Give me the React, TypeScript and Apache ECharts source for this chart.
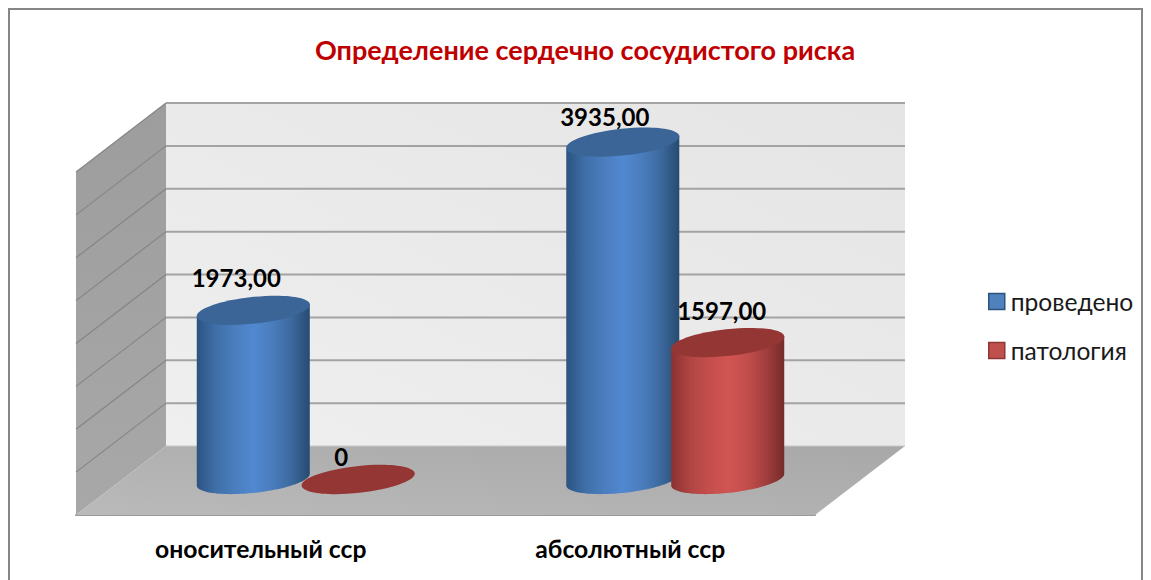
import React, { useEffect, useRef } from "react";
import * as echarts from "echarts";

const categories = ["оносительный сср", "абсолютный сср"];
const seriesNames = ["проведено", "патология"];
const performedValues = [1973, 3935];
const pathologyValues = [0, 1597];
const tickValues = [0, 500, 1000, 1500, 2000, 2500, 3000, 3500, 4000];
const titleText = "Определение сердечно сосудистого риска";

const FONT = "Lato, 'Noto Sans', sans-serif";
const DEPTH_X = 90;
const DEPTH_Y = 69;
const TILT = (6.2 * Math.PI) / 180;

const blueBody = ["#2b5380", "#3f6fa8", "#4a7dbd", "#5188d0", "#4a7dbd", "#3c6a9f", "#274a70"];
const redBody = ["#8a3231", "#b04543", "#c44e4c", "#d05553", "#c44e4c", "#a23f3e", "#752b2a"];

const labelNudges = [
  [[-17, -33], [-17, -23]],
  [[-18, -26], [-6, -32]],
];

function formatValue(v: number) {
  return v === 0 ? "0" : v.toFixed(2).replace(".", ",");
}

function ellipsePoint(cx: number, cy: number, a: number, b: number, t: number) {
  const x = a * Math.cos(t);
  const y = b * Math.sin(t);
  return [
    cx + x * Math.cos(TILT) + y * Math.sin(TILT),
    cy - x * Math.sin(TILT) + y * Math.cos(TILT),
  ];
}

function cylinderItem(seriesIndex: number, topColor: string, stops: string[]) {
  return (params: any, api: any) => {
    const cat = api.value(0);
    const value = api.value(1);
    const band = api.size([1, 0])[0];
    const dx = DEPTH_X / 2 + (seriesIndex === 0 ? -0.142 : 0.142) * band;
    const dy = -DEPTH_Y / 2 - 1;
    const top = api.coord([cat, value]);
    const base = api.coord([cat, 0]);
    const cx = top[0] + dx;
    const topY = top[1] + dy;
    const baseY = base[1] + dy;
    const a = band * 0.154;
    const b = a * 0.235;
    // horizontal tangents of the tilted ellipse
    const t0 = Math.atan2(-b * Math.sin(TILT), a * Math.cos(TILT));
    const children: any[] = [];
    if (value > 0) {
      const points: number[][] = [];
      points.push(ellipsePoint(cx, topY, a, b, t0 + Math.PI));
      points.push(ellipsePoint(cx, topY, a, b, t0));
      for (let i = 0; i <= 48; i++) {
        points.push(ellipsePoint(cx, baseY, a, b, t0 + (Math.PI * i) / 48));
      }
      children.push({
        type: "polygon",
        shape: { points },
        style: {
          fill: {
            type: "linear",
            x: 0,
            y: 0,
            x2: 1,
            y2: 0,
            colorStops: stops.map((color, i) => ({ offset: i / (stops.length - 1), color })),
          },
        },
      });
    }
    children.push({
      type: "ellipse",
      shape: { cx: 0, cy: 0, rx: a, ry: b },
      x: cx,
      y: topY,
      rotation: TILT,
      style: { fill: topColor },
    });
    const nudge = labelNudges[cat][seriesIndex];
    children.push({
      type: "text",
      z2: 50,
      style: {
        x: cx + nudge[0],
        y: topY + nudge[1],
        text: formatValue(value),
        fill: "#000",
        font: `bold 24px ${FONT}`,
        align: "center",
        verticalAlign: "middle",
      },
    });
    return { type: "group", children };
  };
}

function wallItem(params: any, api: any) {
  const sys = params.coordSys;
  const y = api.coord([0, api.value(1)])[1];
  const xL = sys.x;
  const xR = sys.x + sys.width;
  const yB = sys.y + sys.height;
  const yT = sys.y;
  const children: any[] = [];
  if (params.dataIndex === 0) {
    children.push(
      {
        type: "polygon",
        shape: {
          points: [
            [xL + DEPTH_X, yT - DEPTH_Y],
            [xR + DEPTH_X, yT - DEPTH_Y],
            [xR + DEPTH_X, yB - DEPTH_Y],
            [xL + DEPTH_X, yB - DEPTH_Y],
          ],
        },
        style: {
          fill: { type: "linear", x: 0, y: 1, x2: 1, y2: 0, colorStops: [
            { offset: 0, color: "#efefef" },
            { offset: 1, color: "#e5e5e5" },
          ] },
        },
      },
      {
        type: "polygon",
        shape: {
          points: [
            [xL, yT],
            [xL + DEPTH_X, yT - DEPTH_Y],
            [xL + DEPTH_X, yB - DEPTH_Y],
            [xL, yB],
          ],
        },
        style: {
          fill: { type: "linear", x: 0, y: 0, x2: 0, y2: 1, colorStops: [
            { offset: 0, color: "#9d9d9d" },
            { offset: 1, color: "#a8a8a8" },
          ] },
        },
      },
      {
        type: "polygon",
        shape: {
          points: [
            [xL + DEPTH_X, yB - DEPTH_Y],
            [xR + DEPTH_X, yB - DEPTH_Y],
            [xR, yB],
            [xL, yB],
          ],
        },
        style: {
          fill: { type: "linear", x: 0, y: 1, x2: 1, y2: 0, colorStops: [
            { offset: 0, color: "#bababa" },
            { offset: 1, color: "#a8a8a8" },
          ] },
        },
      }
    );
  }
  children.push({
    type: "line",
    shape: { x1: xL + DEPTH_X, y1: y - DEPTH_Y, x2: xR + DEPTH_X, y2: y - DEPTH_Y },
    style: { stroke: params.dataIndex === 0 ? "#c8c8c8" : "#a3a3a3", lineWidth: params.dataIndex === 0 ? 1 : 2 },
  });
  if (params.dataIndex > 0) {
    children.push({
      type: "line",
      shape: { x1: xL, y1: y, x2: xL + DEPTH_X, y2: y - DEPTH_Y },
      style: { stroke: "#858585", lineWidth: 1.2 },
    });
  }
  return { type: "group", children };
}

export default function App() {
  const ref = useRef<HTMLDivElement>(null);
  useEffect(() => {
    document.body.style.margin = "0";
    const chart = echarts.init(ref.current!, undefined, { renderer: "svg" });
    chart.setOption({
      animation: false,
      backgroundColor: "#fff",
      title: {
        text: titleText,
        left: 580,
        top: 31,
        textAlign: "center",
        textStyle: { color: "#c00000", fontFamily: FONT, fontWeight: "bold", fontSize: 27 },
      },
      legend: {
        orient: "vertical",
        left: 983,
        top: 284,
        itemWidth: 16,
        itemHeight: 16,
        itemGap: 24,
        textStyle: { fontFamily: FONT, fontSize: 24.6, color: "#1a1a1a", padding: [0, 0, 0, 1] },
        data: [
          { name: seriesNames[0], icon: "rect", itemStyle: { color: "#4f81bd", borderColor: "#2c5480", borderWidth: 1.5 } },
          { name: seriesNames[1], icon: "rect", itemStyle: { color: "#c0504d", borderColor: "#8c3836", borderWidth: 1.5 } },
        ],
      },
      grid: { left: 76, top: 172, right: 336, bottom: 65 },
      xAxis: {
        type: "category",
        data: categories,
        axisLine: { show: true, lineStyle: { color: "#9a9a9a", width: 2 } },
        axisTick: { show: false },
        axisLabel: {
          margin: 21,
          color: "#000",
          fontFamily: FONT,
          fontWeight: "bold",
          fontSize: 24.7,
        },
      },
      yAxis: { type: "value", min: 0, max: 4000, interval: 500, show: false, splitLine: { show: false } },
      graphic: [
        {
          type: "rect",
          shape: { x: 9, y: 9, width: 1133, height: 590 },
          style: { fill: "transparent", stroke: "#868686", lineWidth: 2 },
          silent: true,
          z: 100,
        },
      ],
      series: [
        {
          type: "custom",
          name: "walls",
          clip: false,
          z: 1,
          renderItem: wallItem,
          data: tickValues.map((t) => [0, t]),
          encode: { x: 0, y: 1 },
        },
        {
          type: "custom",
          name: seriesNames[0],
          clip: false,
          z: 2,
          itemStyle: { color: "#4f81bd" },
          renderItem: cylinderItem(0, "#3a6596", blueBody),
          data: performedValues.map((v, i) => [i, v]),
          encode: { x: 0, y: 1 },
        },
        {
          type: "custom",
          name: seriesNames[1],
          clip: false,
          z: 3,
          itemStyle: { color: "#c0504d" },
          renderItem: cylinderItem(1, "#943634", redBody),
          data: pathologyValues.map((v, i) => [i, v]),
          encode: { x: 0, y: 1 },
        },
      ],
    });
    return () => chart.dispose();
  }, []);
  return <div ref={ref} style={{ width: 1151, height: 580 }} />;
}
